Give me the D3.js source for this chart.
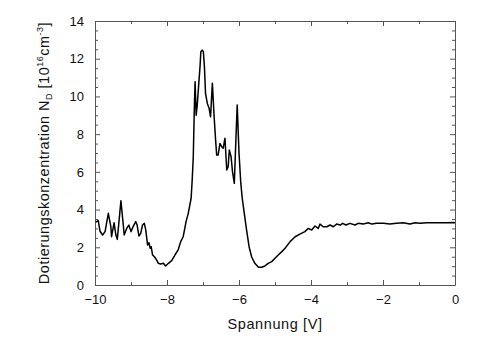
<!DOCTYPE html>
<html><head><meta charset="utf-8">
<script src="https://cdn.jsdelivr.net/npm/d3@7"></script>
<style>body{margin:0;background:#fff}svg{display:block}text{font-family:"Liberation Sans",Arial,sans-serif;fill:#111}</style>
</head><body>
<svg id="c" width="500" height="338"></svg>
<script>
const voltage = [-9.98,-9.91,-9.86,-9.79,-9.72,-9.63,-9.56,-9.54,-9.47,-9.42,-9.38,-9.28,-9.21,-9.19,-9.12,-9.06,-9.00,-8.94,-8.87,-8.83,-8.78,-8.73,-8.68,-8.63,-8.59,-8.54,-8.50,-8.47,-8.44,-8.40,-8.35,-8.29,-8.24,-8.18,-8.10,-8.04,-7.96,-7.87,-7.78,-7.69,-7.62,-7.55,-7.47,-7.41,-7.33,-7.30,-7.27,-7.24,-7.22,-7.19,-7.16,-7.13,-7.08,-7.06,-7.02,-6.99,-6.96,-6.93,-6.88,-6.83,-6.79,-6.74,-6.69,-6.65,-6.62,-6.58,-6.53,-6.48,-6.44,-6.39,-6.34,-6.30,-6.27,-6.22,-6.18,-6.13,-6.09,-6.05,-6.00,-5.95,-5.91,-5.86,-5.79,-5.72,-5.65,-5.56,-5.46,-5.37,-5.28,-5.19,-5.09,-5.00,-4.91,-4.81,-4.72,-4.58,-4.44,-4.31,-4.17,-4.08,-3.98,-3.89,-3.80,-3.75,-3.66,-3.56,-3.47,-3.38,-3.29,-3.19,-3.12,-3.03,-2.92,-2.78,-2.69,-2.55,-2.41,-2.31,-2.18,-1.99,-1.81,-1.62,-1.44,-1.25,-1.11,-0.97,-0.79,-0.60,-0.42,-0.23,-0.05,0.00];
const concentration = [3.33,3.42,2.85,2.65,2.83,3.80,3.10,2.56,3.30,2.65,2.42,4.47,3.10,2.65,3.00,3.18,2.83,3.10,3.36,3.18,2.60,2.74,3.18,3.27,2.92,2.12,2.24,1.95,2.03,1.59,1.50,1.33,1.15,1.11,1.15,1.01,1.15,1.29,1.59,1.86,2.30,2.56,3.36,3.80,4.60,5.57,6.80,9.45,10.78,9.00,9.54,10.34,11.66,12.37,12.46,12.37,11.57,10.16,9.63,9.37,8.92,10.70,8.90,7.69,6.89,6.89,7.51,7.33,7.25,7.78,6.10,6.27,7.16,6.80,6.00,5.39,7.51,9.54,7.00,5.40,4.60,3.89,2.92,2.03,1.50,1.15,0.94,0.94,1.01,1.15,1.24,1.42,1.59,1.77,1.95,2.30,2.56,2.70,2.83,3.00,2.92,3.13,3.00,3.23,3.09,3.09,3.18,3.09,3.23,3.18,3.27,3.18,3.27,3.18,3.27,3.23,3.30,3.23,3.27,3.27,3.23,3.27,3.30,3.23,3.30,3.27,3.30,3.30,3.30,3.30,3.32,3.30];
const xMajorTicks = [-10,-8,-6,-4,-2,0];
const xMinorTicks = [-9,-7,-5,-3,-1];
const yMajorTicks = [0,2,4,6,8,10,12,14];
const yMinorTicks = [0.5,1,1.5,2.5,3,3.5,4.5,5,5.5,6.5,7,7.5,8.5,9,9.5,10.5,11,11.5,12.5,13,13.5];

const svg = d3.select("#c");
const L=95,R=455,T=21,B=285;
const x = d3.scaleLinear().domain([-10,0]).range([L,R]);
const y = d3.scaleLinear().domain([0,14]).range([B,T]);
const axisColor="#555";

function addAxis(gen, tr){
  const g = svg.append("g").attr("transform",tr).call(gen);
  g.select(".domain").attr("stroke",axisColor);
  g.selectAll(".tick line").attr("stroke",axisColor);
  return g;
}
const gb = addAxis(d3.axisBottom(x).tickValues(xMajorTicks).tickSizeInner(-5).tickSizeOuter(0).tickPadding(10).tickFormat(d3.format("d")), `translate(0,${B})`);
gb.selectAll("text").attr("font-size",13).attr("fill","#111");
addAxis(d3.axisBottom(x).tickValues(xMinorTicks).tickSizeInner(-3).tickSizeOuter(0).tickFormat(""), `translate(0,${B})`).select(".domain").remove();
addAxis(d3.axisTop(x).tickValues(xMajorTicks).tickSizeInner(-5).tickSizeOuter(0).tickFormat(""), `translate(0,${T})`);
addAxis(d3.axisTop(x).tickValues(xMinorTicks).tickSizeInner(-3).tickSizeOuter(0).tickFormat(""), `translate(0,${T})`).select(".domain").remove();
const gl = addAxis(d3.axisLeft(y).tickValues(yMajorTicks).tickSizeInner(-5).tickSizeOuter(0).tickPadding(11).tickFormat(d3.format("d")), `translate(${L},0)`);
gl.selectAll("text").attr("font-size",13).attr("fill","#111");
addAxis(d3.axisLeft(y).tickValues(yMinorTicks).tickSizeInner(-3).tickSizeOuter(0).tickFormat(""), `translate(${L},0)`).select(".domain").remove();
addAxis(d3.axisRight(y).tickValues(yMajorTicks).tickSizeInner(-5).tickSizeOuter(0).tickFormat(""), `translate(${R},0)`);
addAxis(d3.axisRight(y).tickValues(yMinorTicks).tickSizeInner(-3).tickSizeOuter(0).tickFormat(""), `translate(${R},0)`).select(".domain").remove();

const line = d3.line().x((d,i)=>x(voltage[i])).y((d,i)=>y(concentration[i]));
svg.append("path").datum(concentration).attr("d",line).attr("fill","none").attr("stroke","#000").attr("stroke-width",1.5).attr("stroke-linejoin","round");

svg.append("text").attr("x",(L+R)/2).attr("y",329).attr("text-anchor","middle").attr("font-size",14.5).attr("letter-spacing","0.6px").text("Spannung [V]");
const yl = svg.append("text").attr("transform",`translate(49,${(T+B)/2}) rotate(-90)`).attr("text-anchor","middle").attr("font-size",14.5).attr("letter-spacing","0.5px");
yl.append("tspan").text("Dotierungskonzentration N");
yl.append("tspan").attr("font-size",9).attr("dy",3).text("D");
yl.append("tspan").attr("dy",-3).text(" [10");
yl.append("tspan").attr("font-size",9).attr("dy",-6).text("16");
yl.append("tspan").attr("dy",6).text("cm");
yl.append("tspan").attr("font-size",9).attr("dy",-6).text("-3");
yl.append("tspan").attr("dy",6).text("]");
</script>
</body></html>
